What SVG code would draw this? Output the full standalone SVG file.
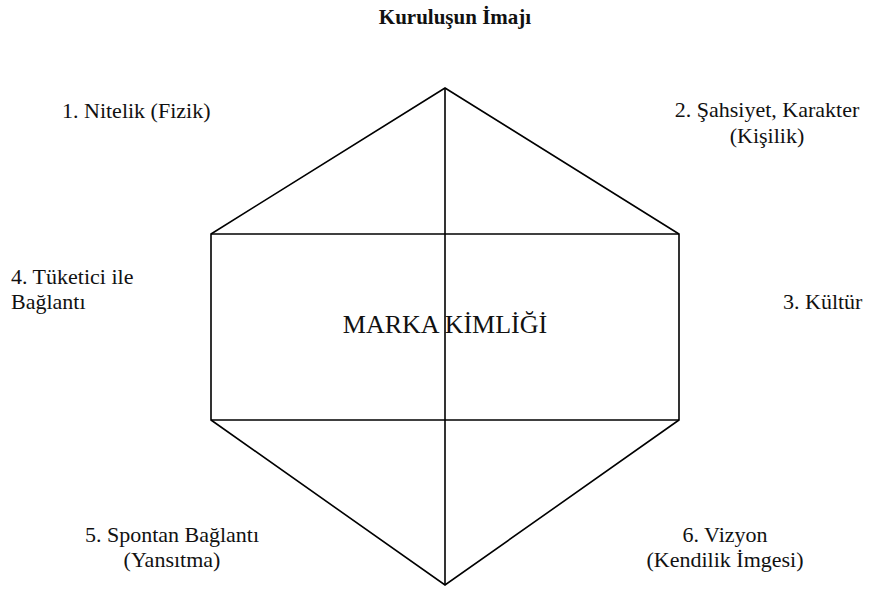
<svg xmlns="http://www.w3.org/2000/svg" width="870" height="595" viewBox="0 0 870 595">
  <style>
    text { font-family: 'Liberation Serif', 'Times New Roman', Times, 'DejaVu Serif', serif; fill: #111; }
    .edge { fill: none; stroke: #000; stroke-width: 1.6; stroke-linejoin: miter; }
    .lbl { font-size: 22px; }
    .mid { text-anchor: middle; }
    .title { font-size: 21px; font-weight: bold; text-anchor: middle; }
    .core { font-size: 26px; text-anchor: middle; }
  </style>
  <rect width="870" height="595" fill="#fff"/>

  <text class="title" x="455" y="24">Kuruluşun İmajı</text>

  <!-- hexagon outline, central band and vertical axis -->
  <g id="connectors">
    <polygon class="edge" points="445,88 679,234 679,420 445,585 211,420 211,234"/>
    <line class="edge" x1="211" y1="234" x2="679" y2="234"/>
    <line class="edge" x1="211" y1="420" x2="679" y2="420"/>
    <line class="edge" x1="445" y1="88" x2="445" y2="585"/>
  </g>

  <g id="core">
    <text class="core" x="445" y="333">MARKA KİMLİĞİ</text>
  </g>

  <g id="n1">
    <text class="lbl" x="62" y="118">1. Nitelik (Fizik)</text>
  </g>
  <g id="n2">
    <text class="lbl mid" x="767" y="117">2. Şahsiyet, Karakter</text>
    <text class="lbl mid" x="767" y="143">(Kişilik)</text>
  </g>
  <g id="n3">
    <text class="lbl" x="783" y="309">3. Kültür</text>
  </g>
  <g id="n4">
    <text class="lbl" x="11" y="284">4. Tüketici ile</text>
    <text class="lbl" x="11" y="309">Bağlantı</text>
  </g>
  <g id="n5">
    <text class="lbl mid" x="172" y="542">5. Spontan Bağlantı</text>
    <text class="lbl mid" x="172" y="567">(Yansıtma)</text>
  </g>
  <g id="n6">
    <text class="lbl mid" x="725" y="542">6. Vizyon</text>
    <text class="lbl mid" x="725" y="567">(Kendilik İmgesi)</text>
  </g>
</svg>
